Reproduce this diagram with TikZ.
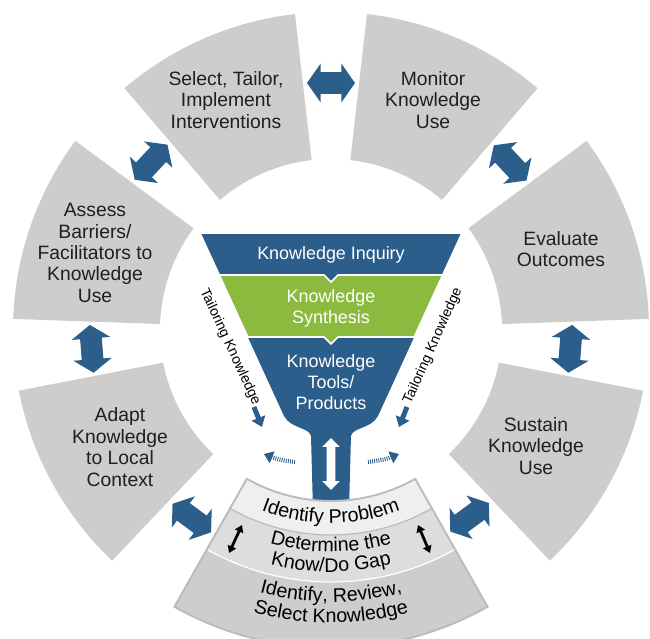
\documentclass[tikz,border=0pt]{standalone}
\usepackage{fontspec}
\setmainfont{Liberation Sans}
\usetikzlibrary{shapes.arrows,arrows.meta,decorations.text}

\definecolor{kblue}{RGB}{44,94,140}
\definecolor{kgreen}{RGB}{139,186,63}
\definecolor{kgray}{RGB}{205,205,205}
\definecolor{bandA}{RGB}{238,239,239}
\definecolor{bandB}{RGB}{221,221,221}
\definecolor{bandC}{RGB}{205,205,205}
\definecolor{kline}{RGB}{188,188,188}

\newcommand{\bandfont}{\fontsize{11.2}{13}\selectfont}
% ring piece: style, start angle, end angle, inner radius, outer radius
\newcommand{\ringpart}[5]{\path[#1] (#2:#4) -- (#2:#5) arc[start angle=#2, end angle=#3, radius=#5] -- (#3:#4) arc[start angle=#3, end angle=#2, radius=#4] -- cycle;}
% curved text on the bottom piece
\newcommand{\arctext}[2]{\path[decorate, decoration={text along path, text align=center, text={|\bandfont|#2}}] (240:#1) arc[start angle=240, end angle=300, radius=#1];}

\tikzset{
  seg/.style={fill=kgray},
  segtext/.style={align=center, text=black!88, font=\fontsize{11}{12.2}\selectfont},
  funtext/.style={align=center, text=white, font=\fontsize{10.2}{12}\selectfont},
  tailtext/.style={font=\fontsize{8}{9}\selectfont, text=black},
  blockarr/.style={shape=double arrow, fill=kblue, inner xsep=0pt, inner ysep=0.21cm, minimum height=0.96cm, minimum width=0.76cm, double arrow head extend=0.17cm, double arrow tip angle=110},
  neckarr/.style={shape=double arrow, fill=white, inner xsep=0pt, inner ysep=0.08cm, minimum height=1.04cm, minimum width=0.34cm, double arrow head extend=0.09cm, double arrow tip angle=90},
  tailarr/.style={draw=kblue, line width=2.8pt, -{Triangle[width=8pt,length=5.5pt]}},
  dotarr/.style={draw=kblue, line width=2.4pt, dash pattern=on 0.5pt off 0.7pt, -{Triangle[width=7pt,length=5pt]}},
  gaparr/.style={draw=black, line width=1.6pt, {Triangle[width=5pt,length=4pt]}-{Triangle[width=5pt,length=4pt]}}
}

\begin{document}
\begin{tikzpicture}[x=0.02cm, y=0.02cm]
  \clip (-331,-309) rectangle (319,330);

  % outer ring
  \ringpart{seg}{96.5}{130.5}{171}{318}
  \ringpart{seg}{49.5}{83.5}{171}{318}
  \ringpart{seg}{2}{36.5}{171}{318}
  \ringpart{seg}{-46.5}{-11}{171}{318}
  \ringpart{seg}{191}{226.5}{171}{318}
  \ringpart{seg}{143.5}{178}{171}{318}

  % arrows between the steps
  \node[blockarr, rotate=180] (selmon) at (90:247) {};
  \node[blockarr, rotate=227] (selass) at (137:246) {};
  \node[blockarr, rotate=133] (monev) at (43:245) {};
  \node[blockarr, rotate=274.5] (assad) at (184.5:240) {};
  \node[blockarr, rotate=85.5] (evsus) at (-4.5:240) {};
  \node[blockarr, rotate=323.5] (adbot) at (233.5:234) {};
  \node[blockarr, rotate=36.5] (susbot) at (306.5:233) {};

  % funnel
  \path[fill=kblue] (-83.2,-7) -- (-47,-86) .. controls (-40,-99) and (-22,-97) .. (-20,-106)
    -- (-18,-180) -- (18,-180) -- (20,-106) .. controls (22,-97) and (40,-99) .. (47,-86) -- (83.2,-7) -- cycle;
  \path[fill=kgreen, draw=white, line width=0.9pt] (-111.7,55) -- (111.7,55) -- (83.2,-7) -- (7,-7) -- (0,-14) -- (-7,-7) -- (-83.2,-7) -- cycle;
  \path[fill=kblue, draw=white, line width=0.9pt] (-131,97) -- (131,97) -- (111.7,55) -- (7,55) -- (0,48) -- (-7,55) -- (-111.7,55) -- cycle;
  \node[funtext] (inquiry) at (0,75) {Knowledge Inquiry};
  \node[funtext] (synthesis) at (0,22) {Knowledge\\Synthesis};
  \node[funtext] (tools) at (0,-52) {Knowledge\\Tools/\\Products};
  \node[neckarr, rotate=90] (neck) at (0,-134) {};

  % tailoring
  \node[tailtext, rotate=-65] (tailL) at (-101,-17) {Tailoring Knowledge};
  \node[tailtext, rotate=66] (tailR) at (102,-16) {Tailoring Knowledge};
  \coordinate (tlA) at (-77,-77);
  \coordinate (tlB) at (-69,-97);
  \coordinate (trA) at (76,-77);
  \coordinate (trB) at (68,-97);
  \draw[tailarr] (tlA) -- (tlB);
  \draw[tailarr] (trA) -- (trB);
  \coordinate (dlA) at (-36,-132);
  \coordinate (dlB) at (-67,-124);
  \coordinate (drA) at (37,-132);
  \coordinate (drB) at (68,-124);
  \draw[dotarr] (dlA) to[bend left=8] (dlB);
  \draw[dotarr] (drA) to[bend right=8] (drB);

  % bottom step
  \ringpart{fill=bandC}{240.5}{299.5}{252}{318}
  \ringpart{fill=bandB}{240.5}{299.5}{205}{252}
  \ringpart{fill=bandA}{240.5}{299.5}{171}{205}
  \draw[kline, line width=0.7pt] (240.5:205) arc[start angle=240.5, end angle=299.5, radius=205];
  \draw[white, line width=0.7pt] (240.5:252) arc[start angle=240.5, end angle=299.5, radius=252];
  \ringpart{draw=kline, line width=1.1pt}{240.5}{299.5}{171}{318}
  \arctext{193}{Identify Problem}
  \arctext{222}{Determine the}
  \arctext{242}{Know/Do Gap}
  \arctext{272}{Identify, Review,}
  \arctext{293}{Select Knowledge}
  \coordinate (glA) at (-89,-195);
  \coordinate (glB) at (-102,-223);
  \coordinate (grA) at (87,-195);
  \coordinate (grB) at (99,-223);
  \draw[gaparr] (glA) -- (glB);
  \draw[gaparr] (grA) -- (grB);

  % step labels
  \node[segtext] (select) at (-105,230) {Select, Tailor,\\Implement\\Interventions};
  \node[segtext] (monitor) at (102,230) {Monitor\\Knowledge\\Use};
  \node[segtext] (evaluate) at (230,81) {Evaluate\\Outcomes};
  \node[segtext] (sustain) at (205,-116) {Sustain\\Knowledge\\Use};
  \node[segtext] (adapt) at (-211,-117) {Adapt\\Knowledge\\to Local\\Context};
  \node[segtext] (assess) at (-236,77) {Assess\\Barriers/\\Facilitators to\\Knowledge\\Use};
\end{tikzpicture}
\end{document}
